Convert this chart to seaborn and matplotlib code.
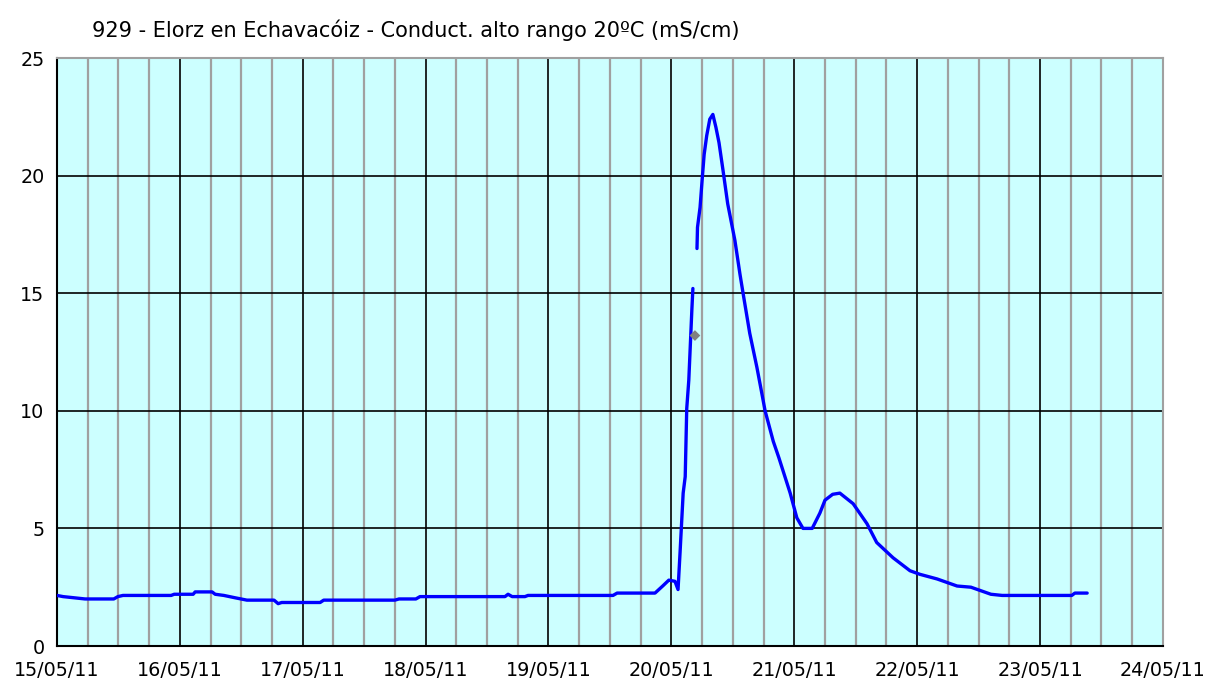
import pandas as pd
import seaborn as sns
import matplotlib.pyplot as plt
import matplotlib.dates as mdates

# hours since 15/05/11 00:00 and conductivity (mS/cm)
hours_a = [0.0, 1.2, 5.5, 11.1, 11.9, 12.9, 22.3, 22.9, 26.6, 27.0, 30.3, 30.9,
           32.6, 34.8, 37.1, 42.4, 43.2, 43.9, 51.4, 52.1, 66.0, 66.8, 70.1,
           70.9, 87.5, 88.1, 88.9, 91.4, 92.0, 108.6, 109.4, 116.8, 118.3,
           119.5, 120.7, 121.3, 121.7, 122.3, 122.7, 123.0, 123.4, 124.0, 124.2]
cond_a = [2.15, 2.1, 2.0, 2.0, 2.1, 2.15, 2.15, 2.2, 2.2, 2.3, 2.3, 2.2,
          2.15, 2.05, 1.95, 1.95, 1.8, 1.85, 1.85, 1.95, 1.95, 2.0, 2.0,
          2.1, 2.1, 2.2, 2.1, 2.1, 2.15, 2.15, 2.25, 2.25, 2.55,
          2.8, 2.75, 2.4, 4.0, 6.5, 7.2, 10.1, 11.3, 14.3, 15.2]

hours_b = [125.0, 125.1, 125.6, 126.0, 126.4, 126.9, 127.5, 128.1, 128.7, 129.3,
           130.1, 131.0, 132.4, 133.4, 134.0, 135.3, 136.7, 137.7, 138.3, 139.9,
           141.0, 143.2, 144.5, 145.7, 147.5, 149.0, 150.0, 151.5, 152.9, 155.5,
           158.2, 160.1, 163.3, 166.6, 168.5, 171.9, 175.8, 178.5, 182.4, 184.6,
           198.2, 198.8, 201.2]
cond_b = [16.9, 17.8, 18.65, 19.8, 20.9, 21.7, 22.4, 22.6, 22.05, 21.4,
          20.2, 18.8, 17.25, 15.8, 15.0, 13.3, 11.85, 10.7, 10.0, 8.7,
          8.0, 6.5, 5.45, 5.0, 5.0, 5.65, 6.2, 6.45, 6.5, 6.05,
          5.2, 4.4, 3.75, 3.2, 3.05, 2.85, 2.55, 2.5, 2.2, 2.15,
          2.15, 2.25, 2.25]

marker_hour = [124.6]
marker_value = [13.2]

start = pd.Timestamp("2011-05-15")
df = pd.concat([
    pd.DataFrame({"hours": hours_a, "cond": cond_a, "segment": 0}),
    pd.DataFrame({"hours": hours_b, "cond": cond_b, "segment": 1}),
])
df["time"] = start + pd.to_timedelta(df["hours"], unit="h")
mk = pd.DataFrame({"time": start + pd.to_timedelta(marker_hour, unit="h"),
                   "cond": marker_value})

sns.set_style("white")
plt.rcParams["font.family"] = ["DejaVu Sans"]
plt.rcParams["text.color"] = "black"
plt.rcParams["xtick.color"] = "black"
plt.rcParams["ytick.color"] = "black"

fig = plt.figure(figsize=(12.09, 6.80), dpi=100)
ax = fig.add_axes([0.0471, 0.05, 0.9148, 0.8647])
ax.set_facecolor("#CCFFFF")

sns.lineplot(data=df, x="time", y="cond", units="segment", estimator=None,
             color="#0000FF", linewidth=2.4, ax=ax, zorder=5)
sns.scatterplot(data=mk, x="time", y="cond", marker="D", color="#808080",
                s=30, edgecolor="none", ax=ax, zorder=6)

ax.set_xlim(start, pd.Timestamp("2011-05-24"))
ax.set_ylim(0, 25)
ax.xaxis.set_major_locator(mdates.DayLocator())
ax.xaxis.set_major_formatter(mdates.DateFormatter("%d/%m/%y"))
ax.xaxis.set_minor_locator(mdates.HourLocator(byhour=[6, 12, 18]))
ax.set_yticks([0, 5, 10, 15, 20, 25])

ax.grid(which="minor", axis="x", color="#A0A0A0", linewidth=1.6)
ax.grid(which="major", axis="x", color="black", linewidth=1.2)
ax.grid(which="major", axis="y", color="black", linewidth=1.2)
ax.set_axisbelow(True)

ax.tick_params(axis="both", which="major", direction="out", length=5,
               width=1.2, colors="black", labelsize=13.8, pad=4)
ax.tick_params(axis="x", which="minor", length=0)
ax.tick_params(axis="x", pad=6)

ax.spines["left"].set_color("black")
ax.spines["bottom"].set_color("black")
ax.spines["top"].set_color("#A0A0A0")
ax.spines["right"].set_color("#A0A0A0")
for s in ax.spines.values():
    s.set_linewidth(1.5)
    s.set_visible(True)

ax.set_xlabel("")
ax.set_ylabel("")

fig.text(0.076, 0.955, "929 - Elorz en Echavacóiz - Conduct. alto rango 20ºC (mS/cm)",
         fontsize=15, ha="left", va="center", color="black")

fig.savefig("out.png", dpi=100)
